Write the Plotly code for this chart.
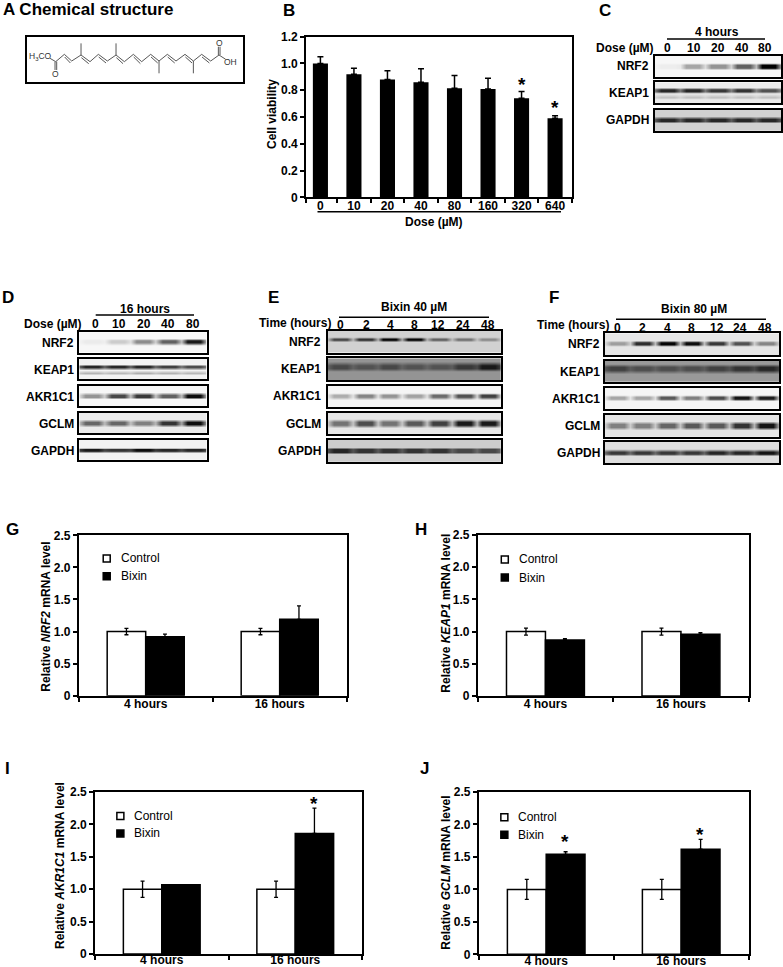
import plotly.graph_objects as go

W, H = 783, 967
FONT = "Liberation Sans"

# ---------- Panel B ----------
DOSES_B = ["0", "10", "20", "40", "80", "160", "320", "640"]
VIABILITY = [1.0, 0.92, 0.88, 0.86, 0.815, 0.81, 0.74, 0.59]
VIABILITY_ERR = [0.05, 0.045, 0.065, 0.10, 0.095, 0.08, 0.05, 0.02]

# ---------- Panels G-J ----------
TIMES = ["4 hours", "16 hours"]
G_CONTROL, G_CONTROL_ERR = [1.0, 1.0], [0.05, 0.05]
G_BIXIN, G_BIXIN_ERR = [0.92, 1.19], [0.04, 0.21]
H_CONTROL, H_CONTROL_ERR = [1.0, 1.0], [0.055, 0.055]
H_BIXIN, H_BIXIN_ERR = [0.87, 0.96], [0.02, 0.025]
I_CONTROL, I_CONTROL_ERR = [1.0, 1.0], [0.125, 0.125]
I_BIXIN, I_BIXIN_ERR = [1.07, 1.86], [0.0, 0.39]
J_CONTROL, J_CONTROL_ERR = [1.0, 1.0], [0.155, 0.155]
J_BIXIN, J_BIXIN_ERR = [1.54, 1.62], [0.04, 0.15]

# ---------- Western blots: band darkness per lane (0 white, 1 black) ----------
C_LANES = ["0", "10", "20", "40", "80"]
C_NRF2 = [0.07, 0.35, 0.42, 0.62, 1.0]
C_KEAP1 = [0.85, 0.85, 0.78, 0.8, 0.68]
C_KEAP1_LOW = [0.25, 0.25, 0.25, 0.25, 0.25]
C_GAPDH = [0.85, 0.85, 0.85, 0.85, 0.85]

D_LANES = ["0", "10", "20", "40", "80"]
D_NRF2 = [0.08, 0.2, 0.45, 0.62, 0.9]
D_KEAP1 = [0.85, 0.85, 0.85, 0.75, 0.7]
D_KEAP1_LOW = [0.3, 0.28, 0.32, 0.3, 0.28]
D_AKR1C1 = [0.42, 0.72, 0.78, 0.62, 0.95]
D_GCLM = [0.6, 0.6, 0.5, 0.8, 0.95]
D_GAPDH = [0.9, 0.8, 0.95, 0.85, 0.85]

E_LANES = ["0", "2", "4", "8", "12", "24", "48"]
E_NRF2 = [0.72, 0.8, 0.98, 0.98, 0.62, 0.55, 0.45]
E_KEAP1 = [0.72, 0.68, 0.72, 0.68, 0.68, 0.78, 0.9]
E_AKR1C1 = [0.32, 0.48, 0.42, 0.36, 0.58, 0.68, 0.75]
E_GCLM = [0.55, 0.7, 0.55, 0.65, 0.75, 0.9, 0.9]
E_GAPDH = [0.85, 0.8, 0.8, 0.8, 0.8, 0.72, 0.72]

F_LANES = ["0", "2", "4", "8", "12", "24", "48"]
F_NRF2 = [0.38, 0.82, 0.98, 0.95, 0.78, 0.68, 0.48]
F_KEAP1 = [0.75, 0.7, 0.7, 0.7, 0.75, 0.8, 0.85]
F_AKR1C1 = [0.35, 0.35, 0.65, 0.5, 0.7, 0.92, 0.88]
F_GCLM = [0.5, 0.5, 0.6, 0.65, 0.65, 0.8, 0.92]
F_GAPDH = [0.78, 0.78, 0.78, 0.78, 0.85, 0.85, 0.92]

# ---------- Bixin skeleton (drawing units) ----------
CHAIN_X = [90, 107, 133, 155, 183, 210, 235, 262, 288, 313, 340, 365, 392, 417, 442, 468, 495, 520, 545, 572, 597, 617]
CHAIN_Y = [85, 95, 73, 93, 75, 95, 73, 93, 75, 95, 73, 95, 73, 93, 73, 93, 73, 93, 73, 93, 75, 88]
DOUBLE_BOND_STARTS = [2, 4, 6, 8, 10, 12, 14, 16, 18]
METHYL_BRANCHES = [(183, 75, 183, 40), (288, 75, 288, 40), (417, 93, 417, 130), (520, 93, 520, 130)]
CARBONYLS = [(107, 95, 107, 120), (597, 75, 597, 50)]

fig = go.Figure()
layout = dict(
    template="none",
    width=W, height=H, margin=dict(l=0, r=0, t=0, b=0, pad=0), autosize=False,
    paper_bgcolor="white", plot_bgcolor="white", showlegend=False,
    font=dict(family=FONT, color="black", size=12),
    barmode="group", bargap=0.425, bargroupgap=0,
)
annotations, shapes = [], []
axis_no = [0]


def new_axes(left, right, top, bottom, xa, ya):
    axis_no[0] += 1
    n = axis_no[0]
    s = "" if n == 1 else str(n)
    layout["xaxis" + s] = dict(domain=[left / W, right / W], anchor="y" + s, automargin=False, **xa)
    layout["yaxis" + s] = dict(domain=[1 - bottom / H, 1 - top / H], anchor="x" + s, automargin=False, **ya)
    return "x" + s, "y" + s


# full-page axes in page pixels: carries free text without pushing the margins
PX, PY = new_axes(0, W, 0, H, dict(range=[0, W], visible=False), dict(range=[H, 0], visible=False))


def txt(x, y, text, size=12, anchor="center", bold=True, angle=0):
    annotations.append(dict(
        x=x, y=y, xref=PX, yref=PY, text=text, showarrow=False,
        xanchor=anchor, yanchor="middle", textangle=angle,
        font=dict(family=FONT, size=size, color="black", weight=700 if bold else 400),
    ))


def hline(x0, x1, y, width=1.5):
    shapes.append(dict(type="line", xref="paper", yref="paper", x0=x0 / W, x1=x1 / W,
                       y0=1 - y / H, y1=1 - y / H, line=dict(color="black", width=width)))


TICK = dict(family=FONT, size=12, color="black", weight=700)


def frame():
    return dict(showgrid=False, zeroline=False, showline=True, linecolor="black",
                linewidth=1.6, mirror=True, tickcolor="black", tickwidth=1.5)


# ---------- Panel A ----------
xm, ym = new_axes(26.7, 242.7, 36.7, 82.3,
                  dict(frame(), range=[20, 668], showticklabels=False, ticks=""),
                  dict(frame(), range=[157, 20], showticklabels=False, ticks=""))
mol_line = dict(color="#444444", width=0.9)
fig.add_trace(go.Scatter(x=CHAIN_X, y=CHAIN_Y, mode="lines", line=mol_line, xaxis=xm, yaxis=ym))
seg_x, seg_y = [], []
for b in METHYL_BRANCHES:
    seg_x += [b[0], b[2], None]
    seg_y += [b[1], b[3], None]
for c in CARBONYLS:
    seg_x += [c[0] - 2, c[2] - 2, None, c[0] + 3, c[2] + 3, None]
    seg_y += [c[1], c[3], None, c[1], c[3], None]
for i in DOUBLE_BOND_STARTS:
    seg_x += [CHAIN_X[i] + 1, CHAIN_X[i + 1] - 4, None]
    seg_y += [CHAIN_Y[i] + 8, CHAIN_Y[i + 1] + 6, None]
fig.add_trace(go.Scatter(x=seg_x, y=seg_y, mode="lines", line=mol_line, xaxis=xm, yaxis=ym))
for tx, ty, label in [(60, 80, "H<sub>3</sub>CO"), (107, 133, "O"), (597, 40, "O"), (632, 95, "OH")]:
    annotations.append(dict(x=tx, y=ty, xref=xm, yref=ym, text=label, showarrow=False,
                            font=dict(family=FONT, size=8.5, color="#333333")))

# ---------- Panel B ----------
xb, yb = new_axes(306, 571.5, 36.7, 197.3,
                  dict(frame(), range=[-0.43, 7.49], tickmode="array", tickvals=list(range(8)),
                       ticktext=DOSES_B, ticks="", tickfont=TICK, ticklabelstandoff=-4,
                       minor=dict(tickmode="array", tickvals=[-0.43, 0.5, 1.5, 2.5, 3.5, 4.5, 5.5, 6.5, 7.49],
                                  ticks="outside", ticklen=4, tickwidth=1.5, tickcolor="black")),
                  dict(frame(), range=[0, 1.2], tickmode="array",
                       tickvals=[0, 0.2, 0.4, 0.6, 0.8, 1.0, 1.2],
                       ticktext=["0", "0.2", "0.4", "0.6", "0.8", "1.0", "1.2"],
                       ticks="outside", ticklen=4, tickfont=TICK))
fig.add_trace(go.Bar(x=list(range(8)), y=VIABILITY, width=0.45, marker=dict(color="black"),
                     error_y=dict(type="data", symmetric=False, array=VIABILITY_ERR,
                                  arrayminus=[0] * 8, color="black", thickness=1.5, width=3),
                     xaxis=xb, yaxis=yb))
for xv, yv in [(6, 0.84), (7, 0.67)]:
    annotations.append(dict(x=xv, y=yv, xref=xb, yref=yb, text="*", showarrow=False,
                            font=dict(family=FONT, size=19, color="black", weight=700)))
hline(317.5, 561, 211.7)
txt(434, 222, "Dose (µM)")
txt(272, 114, "Cell viability", angle=-90)


# ---------- Panels G-J ----------
def mrna(left, right, top, bottom, control, control_err, bixin, bixin_err, gene,
         title_x, title_y, legend_x, legend_y, stars, label_off=-4):
    xa = dict(frame(), range=[0, 2], tickmode="array", tickvals=[0.5, 1.5], ticktext=TIMES,
              ticks="", tickfont=TICK, ticklabelstandoff=label_off,
              minor=dict(tickmode="array", tickvals=[0, 1, 2], ticks="outside", ticklen=4,
                         tickwidth=1.5, tickcolor="black"))
    ya = dict(frame(), range=[0, 2.5], tickmode="array", tickvals=[0, 0.5, 1, 1.5, 2, 2.5],
              ticktext=["0", "0.5", "1.0", "1.5", "2.0", "2.5"], ticks="outside", ticklen=4,
              tickfont=TICK)
    x_, y_ = new_axes(left, right, top, bottom, xa, ya)
    fig.add_trace(go.Bar(x=[0.5, 1.5], y=control, name="Control",
                         marker=dict(color="white", line=dict(color="black", width=1.5)),
                         error_y=dict(type="data", array=control_err, color="black", thickness=1.3, width=2),
                         xaxis=x_, yaxis=y_))
    fig.add_trace(go.Bar(x=[0.5, 1.5], y=bixin, name="Bixin",
                         marker=dict(color="black", line=dict(color="black", width=1.5)),
                         error_y=dict(type="data", symmetric=False, array=bixin_err, arrayminus=[0, 0],
                                      color="black", thickness=1.3, width=2),
                         xaxis=x_, yaxis=y_))
    for name, color, yv in [("Control", "white", legend_y[0]), ("Bixin", "black", legend_y[1])]:
        fig.add_trace(go.Scatter(x=[legend_x], y=[yv], mode="markers", name=name,
                                 marker=dict(symbol="square", size=7, color=color,
                                             line=dict(color="black", width=1.5)),
                                 xaxis=x_, yaxis=y_))
        annotations.append(dict(x=legend_x, y=yv, xref=x_, yref=y_, text=name, showarrow=False,
                                xanchor="left", xshift=12,
                                font=dict(family=FONT, size=12, color="black")))
    for sx, sy in stars:
        annotations.append(dict(x=sx, y=sy, xref=x_, yref=y_, text="*", showarrow=False,
                                font=dict(family=FONT, size=19, color="black", weight=700)))
    txt(title_x, title_y, f"Relative <i>{gene}</i> mRNA level", angle=-90)


mrna(78.7, 346.7, 535.3, 695.7, G_CONTROL, G_CONTROL_ERR, G_BIXIN, G_BIXIN_ERR, "NRF2",
     45.7, 617, 0.209, (2.14, 1.86), [])
mrna(477.7, 748.7, 535, 696, H_CONTROL, H_CONTROL_ERR, H_BIXIN, H_BIXIN_ERR, "KEAP1",
     445.7, 613, 0.2, (2.12, 1.84), [])
mrna(95, 362, 792, 954, I_CONTROL, I_CONTROL_ERR, I_BIXIN, I_BIXIN_ERR, "AKR1C1",
     60, 866, 0.19, (2.13, 1.86), [(1.64, 2.32)], label_off=-6)
mrna(478.7, 748.7, 792, 954.3, J_CONTROL, J_CONTROL_ERR, J_BIXIN, J_BIXIN_ERR, "GCLM",
     445.7, 873, 0.19, (2.11, 1.84), [(0.64, 1.74), (1.64, 1.84)], label_off=-6)


# ---------- Blots ----------
def blot(left, right, top, bottom, main, bg, band_y, lower=None, lower_y=None, gapf=0.3, th=0.16):
    n = len(main)
    xs = []
    for i in range(n):
        xs += [i - 0.5, i - 0.26, i + 0.26]
    xs.append(n - 0.5)

    def band_row(vals):
        row = []
        for i, v in enumerate(vals):
            prev = vals[i - 1] if i else v
            row += [bg + gapf * ((prev + v) / 2 - bg), v, v]
        row.append(bg + gapf * (vals[-1] - bg))
        return row

    flat = [bg] * len(xs)
    core = 0.3 * th
    ys, z = [0], [flat]
    if lower is not None:
        ys += [lower_y - th, lower_y]
        z += [flat, band_row(lower)]
        ys += [(lower_y + band_y) / 2]
        z += [flat]
    else:
        ys += [band_y - th]
        z += [flat]
    main_row = band_row(main)
    ys += [band_y - core, band_y + core, band_y + th, 1]
    z += [main_row, main_row, flat, flat]
    x_, y_ = new_axes(left, right, top, bottom,
                      dict(frame(), range=[-0.5, n - 0.5], showticklabels=False, ticks="", linewidth=2),
                      dict(frame(), range=[0, 1], showticklabels=False, ticks="", linewidth=2))
    fig.add_trace(go.Heatmap(x=xs, y=ys, z=z, zmin=0, zmax=1, zsmooth="best", showscale=False,
                             colorscale=[[0, "#ffffff"], [1, "#000000"]], hoverinfo="skip",
                             xaxis=x_, yaxis=y_))


def lanes(labels, xs, y):
    for lab, x in zip(labels, xs):
        txt(x, y, lab)


# Panel C
blot(655, 781, 55.7, 76.7, C_NRF2, 0.03, 0.5, th=0.18)
blot(655, 781, 82.3, 103.3, C_KEAP1, 0.08, 0.62, C_KEAP1_LOW, 0.3, gapf=0.6, th=0.13)
blot(655, 781, 110, 130.7, C_GAPDH, 0.18, 0.52, gapf=0.7, th=0.17)
for lab, y in [("NRF2", 65.7), ("KEAP1", 93), ("GAPDH", 120)]:
    txt(651, y, lab, anchor="right")
lanes(C_LANES, [667.5, 693.5, 717.5, 742, 765], 48)
txt(656, 48, "Dose (µM)", anchor="right")
txt(717, 32, "4 hours")
hline(667, 765, 39)

# Panel D
D_TOPS = [(332.3, 352.7), (359, 379), (386, 406), (413, 433.3), (439.7, 460)]
blot(79.3, 206.7, *D_TOPS[0], D_NRF2, 0.03, 0.55, th=0.17)
blot(79.3, 206.7, *D_TOPS[1], D_KEAP1, 0.05, 0.62, D_KEAP1_LOW, 0.32, gapf=0.7, th=0.11)
blot(79.3, 206.7, *D_TOPS[2], D_AKR1C1, 0.03, 0.52, gapf=0.3, th=0.17)
blot(79.3, 206.7, *D_TOPS[3], D_GCLM, 0.08, 0.5, gapf=0.35, th=0.19)
blot(79.3, 206.7, *D_TOPS[4], D_GAPDH, 0.05, 0.5, gapf=0.85, th=0.12)
for lab, y in zip(["NRF2", "KEAP1", "AKR1C1", "GCLM", "GAPDH"], [343.3, 370, 397, 424, 451]):
    txt(76, y, lab, anchor="right")
lanes(D_LANES, [95.7, 119, 144.3, 168.3, 192.7], 324)
txt(84, 324, "Dose (µM)", anchor="right")
txt(145, 309.3, "16 hours")
hline(95.7, 194, 315)

# Panel E
E_TOPS = [(330.7, 352.7), (358.3, 380), (385.7, 407.3), (412.7, 434.3), (440, 461.7)]
blot(327.7, 501, *E_TOPS[0], E_NRF2, 0.18, 0.62, gapf=0.2, th=0.12)
blot(327.7, 501, *E_TOPS[1], E_KEAP1, 0.42, 0.62, gapf=0.7, th=0.24)
blot(327.7, 501, *E_TOPS[2], E_AKR1C1, 0.04, 0.52, gapf=0.2, th=0.15)
blot(327.7, 501, *E_TOPS[3], E_GCLM, 0.1, 0.52, gapf=0.25, th=0.22)
blot(327.7, 501, *E_TOPS[4], E_GAPDH, 0.2, 0.52, gapf=0.75, th=0.17)
for lab, y in zip(["NRF2", "KEAP1", "AKR1C1", "GCLM", "GAPDH"], [341.7, 369, 396, 423.5, 451]):
    txt(323.3, y, lab, anchor="right")
lanes(E_LANES, [340.7, 366, 390, 414, 438.3, 463.3, 488.3], 325)
txt(333.3, 322.7, "Time (hours)", anchor="right")
txt(414, 307, "Bixin 40 µM")
hline(339, 489, 317.3)

# Panel F
F_TOPS = [(333.3, 355), (360.7, 382), (387.7, 409), (415, 436.7), (441.7, 463.3)]
blot(605, 779, *F_TOPS[0], F_NRF2, 0.1, 0.55, gapf=0.2, th=0.15)
blot(605, 779, *F_TOPS[1], F_KEAP1, 0.4, 0.64, gapf=0.75, th=0.24)
blot(605, 779, *F_TOPS[2], F_AKR1C1, 0.04, 0.52, gapf=0.2, th=0.15)
blot(605, 779, *F_TOPS[3], F_GCLM, 0.1, 0.52, gapf=0.25, th=0.22)
blot(605, 779, *F_TOPS[4], F_GAPDH, 0.13, 0.5, gapf=0.7, th=0.17)
for lab, y in zip(["NRF2", "KEAP1", "AKR1C1", "GCLM", "GAPDH"], [344.3, 372, 399, 426, 453]):
    txt(601.7, y, lab, anchor="right")
lanes(F_LANES, [617.7, 642.7, 667.3, 691, 717, 740, 765], 327.7)
txt(610.7, 325, "Time (hours)", anchor="right")
txt(694, 309.3, "Bixin 80 µM")
hline(616, 766, 319.3)

# ---------- Panel letters ----------
txt(1, 9, "A Chemical structure", size=17, anchor="left")
for letter, x, y in [("B", 289, 10), ("C", 605, 10), ("D", 8, 297), ("E", 273, 297), ("F", 554, 297),
                     ("G", 12, 529), ("H", 421, 529), ("I", 7, 768), ("J", 424, 768)]:
    txt(x, y, letter, size=17)

layout["annotations"] = annotations
layout["shapes"] = shapes
fig.update_layout(**layout)
fig.write_html("out.html", post_script="document.body.style.margin='0';",
               config={"displayModeBar": False})
